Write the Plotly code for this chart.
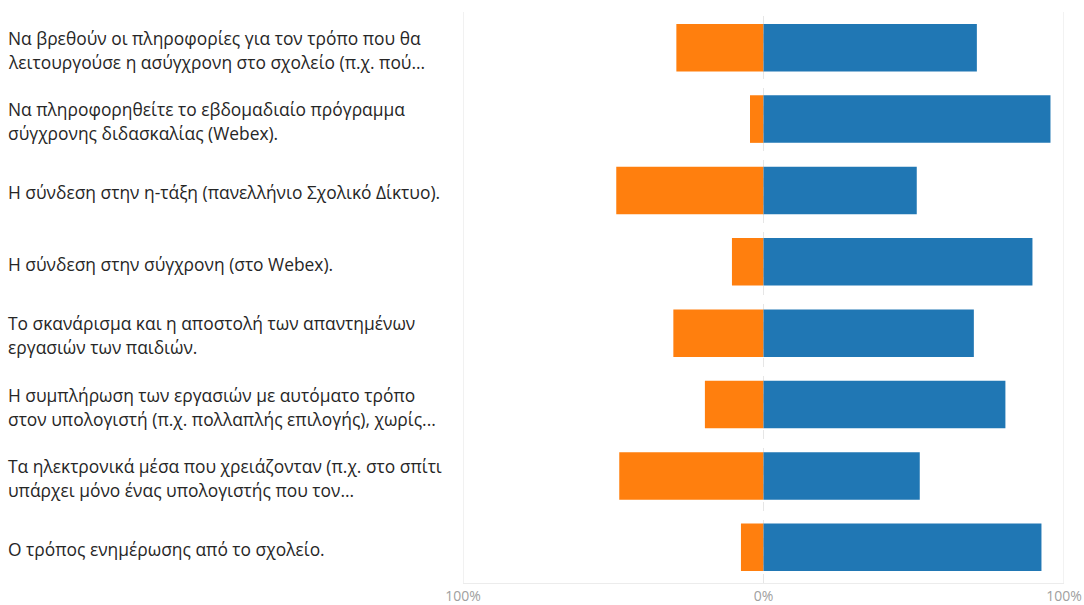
import plotly.graph_objects as go

categories = [
    "Να βρεθούν οι πληροφορίες για τον τρόπο που θα<br>λειτουργούσε η ασύγχρονη στο σχολείο (π.χ. πού...",
    "Να πληροφορηθείτε το εβδομαδιαίο πρόγραμμα<br>σύγχρονης διδασκαλίας (Webex).",
    "Η σύνδεση στην η-τάξη (πανελλήνιο Σχολικό Δίκτυο).",
    "Η σύνδεση στην σύγχρονη (στο Webex).",
    "Το σκανάρισμα και η αποστολή των απαντημένων<br>εργασιών των παιδιών.",
    "Η συμπλήρωση των εργασιών με αυτόματο τρόπο<br>στον υπολογιστή (π.χ. πολλαπλής επιλογής), χωρίς...",
    "Τα ηλεκτρονικά μέσα που χρειάζονταν (π.χ. στο σπίτι<br>υπάρχει μόνο ένας υπολογιστής που τον...",
    "Ο τρόπος ενημέρωσης από το σχολείο.",
]
negative_pct = [29, 4.5, 49, 10.5, 30, 19.5, 48, 7.5]
positive_pct = [71, 95.5, 51, 89.5, 70, 80.5, 52, 92.5]

tick_vals = [-100, 0, 100]
tick_text = ["100%", "0%", "100%"]

ids = list(range(len(categories)))

fig = go.Figure()
fig.add_trace(go.Bar(
    y=ids, x=[-v for v in negative_pct], orientation="h",
    marker=dict(color="#FF7F0E", line=dict(width=0)), name="neg",
))
fig.add_trace(go.Bar(
    y=ids, x=positive_pct, orientation="h",
    marker=dict(color="#2077B4", line=dict(width=0)), name="pos",
))

for tv in tick_vals:
    fig.add_vline(x=tv, line=dict(color="#e4e4e4" if tv else "#e6e6e6", width=1,
                                  dash="solid" if tv else "dash"), layer="below")

for i, lab in enumerate(categories):
    lines = lab.split("<br>")
    n = len(lines)
    for j, ln in enumerate(lines):
        off = (j - (n - 1) / 2) * 24
        fig.add_annotation(
            x=0, xref="paper", xshift=-457, xanchor="left",
            y=i, yref="y", yshift=-off - 2, yanchor="middle",
            text=ln, showarrow=False,
            font=dict(family="Open Sans", size=17.4, color="#262626"),
        )

fig.update_layout(
    width=1084, height=605,
    margin=dict(l=463, r=20, t=12, b=22, autoexpand=False),
    barmode="relative", bargap=0.333,
    showlegend=False,
    plot_bgcolor="white", paper_bgcolor="white",
    xaxis=dict(range=[-100, 100], tickvals=tick_vals, ticktext=tick_text,
               showgrid=False, zeroline=False, showline=True, linecolor="#ececec",
               automargin=False,
               tickfont=dict(family="Open Sans", size=14, color="#a0a0a0"), ticks=""),
    yaxis=dict(range=[7.5, -0.5], showticklabels=False, showgrid=False, zeroline=False,
               automargin=False),
)

fig.write_html("out.html", config={"displayModeBar": False},
               post_script="document.body.style.margin='0';document.body.style.overflow='hidden';")
